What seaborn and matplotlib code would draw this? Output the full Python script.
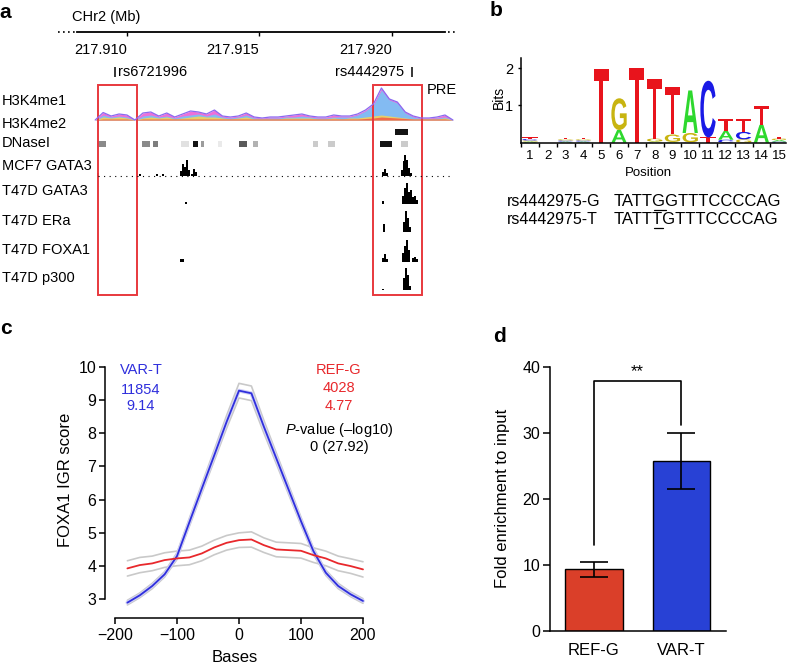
import numpy as np
import pandas as pd
import matplotlib
matplotlib.use("Agg")
import matplotlib.pyplot as plt
import seaborn as sns
from matplotlib.patches import Rectangle, PathPatch
from matplotlib.textpath import TextPath
from matplotlib.font_manager import FontProperties
from matplotlib.transforms import Affine2D
from matplotlib.lines import Line2D

# ======================= DATA =======================
# ---- panel a : genome browser (chr2, Mb) ----
chr_ticks = [217.910, 217.915, 217.920]
track_names = ['H3K4me1', 'H3K4me2', 'DNaseI', 'MCF7 GATA3', 'T47D GATA3',
               'T47D ERa', 'T47D FOXA1', 'T47D p300']
snp_names = ['rs6721996', 'rs4442975']
snp_pos = [217.90955, 217.92075]
box_start = [217.90891, 217.91928]
box_end = [217.91038, 217.92113]

h3_pos = [217.9088, 217.9091, 217.9094, 217.9097, 217.9100, 217.9103, 217.9106, 217.9109,
          217.9112, 217.9115, 217.9118, 217.9121, 217.9124, 217.9127, 217.9130, 217.9133,
          217.9136, 217.9139, 217.9142, 217.9145, 217.9148, 217.9151, 217.9154, 217.9157,
          217.9160, 217.9163, 217.9166, 217.9169, 217.9172, 217.9175, 217.9178, 217.9181,
          217.9184, 217.9187, 217.9190, 217.9193, 217.9196, 217.9199, 217.9202, 217.9205,
          217.9208, 217.9211, 217.9214, 217.9217, 217.9220, 217.9223]
h3_magenta = [0, 7.5, 4, 6, 5, 0, 7, 8, 4, 7, 3, 6, 9, 8, 6, 10, 4, 3, 4, 7, 3, 2, 3, 3,
              4, 5, 6, 4, 3, 3, 5, 4, 4, 6, 10, 16, 32, 21, 18, 8, 4, 2, 2, 3, 5, 0]
h3_cyan = [0, 5, 3, 4, 3, 0, 4, 5, 3, 4, 2, 4, 5, 6, 4, 6, 3, 2, 3, 5, 2, 1.5, 2, 2,
           3, 3, 4, 3, 2, 2, 3, 3, 3, 5, 9, 15, 30, 20, 17, 7, 3, 1.5, 1.5, 2, 3, 0]
h3_yellow = [0, 3, 2, 3, 2, 0, 2, 3, 2, 3, 1, 2, 3, 4, 3, 3, 2, 1, 2, 3, 1, 1, 1, 1,
             2, 2, 2, 2, 1, 1, 2, 1, 2, 2, 3, 4, 5, 4, 3, 2, 1, 1, 1, 1, 2, 0]
h3_red = [0, 1, 1, 1, 1, 0, 1, 1, 1, 1, 1, 1, 1, 1, 1, 1, 1, 1, 1, 1, 1, 1, 1, 1,
          1, 1, 1, 1, 1, 1, 1, 1, 1, 1, 1.5, 2, 3, 2.5, 2, 1.5, 1, 1, 1, 1, 1, 0]

dnase_start = [217.90887, 217.91057, 217.91098, 217.91204, 217.91249, 217.91279, 217.91343,
               217.91423, 217.91476, 217.91702, 217.91759, 217.91955, 217.92034, 217.92011]
dnase_end = [217.90921, 217.91087, 217.91117, 217.91234, 217.91268, 217.91291, 217.91359,
             217.91453, 217.91494, 217.91721, 217.91785, 217.92000, 217.92060, 217.92060]
dnase_score = [0.5, 0.5, 0.55, 0.13, 1.0, 0.42, 0.09, 0.7, 0.33, 0.22, 0.22, 1.0, 0.22, 1.0]
dnase_row = [0, 0, 0, 0, 0, 0, 0, 0, 0, 0, 0, 0, 0, 1]

mcf7_gata3_pos = [217.90891, 217.91049, 217.91113, 217.91136, 217.91204, 217.91211, 217.91219,
                  217.91226, 217.91234, 217.91245, 217.91253, 217.91260, 217.91966, 217.91974,
                  217.91981, 217.92038, 217.92045, 217.92049, 217.92057, 217.92064, 217.92072]
mcf7_gata3_h = [3, 2, 2, 2, 5, 12, 9, 16, 6, 2, 7, 4, 4, 7, 3, 6, 15, 21, 16, 8, 3]
t47d_gata3_pos = [217.91223, 217.91966, 217.92042, 217.92049, 217.92057, 217.92064,
                  217.92072, 217.92079, 217.92087, 217.92094]
t47d_gata3_h = [2, 3, 8, 16, 21, 12, 14, 7, 8, 4]
t47d_era_pos = [217.91970, 217.92045, 217.92053, 217.92060, 217.92068]
t47d_era_h = [8, 10, 21, 14, 5]
t47d_foxa1_pos = [217.91204, 217.91211, 217.91966, 217.91974, 217.91981, 217.92042,
                  217.92049, 217.92057, 217.92064, 217.92079, 217.92087, 217.92094]
t47d_foxa1_h = [3, 3, 4, 8, 3, 9, 16, 22, 12, 4, 5, 3]
t47d_p300_pos = [217.91966, 217.92045, 217.92053, 217.92060, 217.92068]
t47d_p300_h = [1, 12, 22, 15, 4]

# ---- panel b : FOXA1 motif logo (bits) ----
logo_positions = list(range(1, 16))
logo_A = [0.03, 0.0, 0.03, 0.03, 0.0, 0.34, 0.0, 0.02, 0.02, 1.14, 0.0, 0.24, 0.0, 0.48, 0.04]
logo_C = [0.04, 0.0, 0.03, 0.03, 0.0, 0.0, 0.0, 0.01, 0.0, 0.01, 1.52, 0.08, 0.20, 0.0, 0.03]
logo_G = [0.03, 0.0, 0.03, 0.03, 0.0, 0.85, 0.0, 0.08, 0.20, 0.25, 0.0, 0.0, 0.09, 0.0, 0.04]
logo_T = [0.04, 0.0, 0.03, 0.03, 1.97, 0.0, 2.00, 1.60, 1.27, 0.0, 0.14, 0.32, 0.34, 0.50, 0.04]
seq_labels = ['rs4442975-G', 'rs4442975-T']
seq_strings = ['TATTGGTTTCCCCAG', 'TATTTGTTTCCCCAG']
snp_index = 4

# ---- panel c : FOXA1 IGR score ----
bases = [-180, -160, -140, -120, -100, -80, -60, -40, -20, 0,
         20, 40, 60, 80, 100, 120, 140, 160, 180, 200]
var_t = [2.90, 3.12, 3.40, 3.75, 4.30, 5.32, 6.33, 7.33, 8.34, 9.28,
         9.20, 8.20, 7.25, 6.30, 5.35, 4.45, 3.80, 3.40, 3.15, 2.95]
var_se = [0.07, 0.07, 0.08, 0.08, 0.10, 0.12, 0.14, 0.16, 0.19, 0.22,
          0.22, 0.19, 0.16, 0.14, 0.12, 0.10, 0.08, 0.08, 0.07, 0.07]
ref_g = [3.93, 4.03, 4.08, 4.18, 4.23, 4.26, 4.38, 4.56, 4.70, 4.78,
         4.80, 4.63, 4.50, 4.48, 4.46, 4.33, 4.23, 4.08, 4.00, 3.90]
ref_se = [0.23, 0.23, 0.22, 0.22, 0.22, 0.22, 0.22, 0.22, 0.22, 0.22,
          0.23, 0.22, 0.22, 0.22, 0.22, 0.22, 0.22, 0.22, 0.22, 0.23]
var_stats = ['VAR-T', '11854', '9.14']
ref_stats = ['REF-G', '4028', '4.77']
pval_text = ['$P$-value (\u2013log10)', '0 (27.92)']

# ---- panel d : ChIP-qPCR ----
chip_groups = ['REF-G', 'VAR-T']
chip_fold = [9.3, 25.7]
chip_err = [1.1, 4.2]
signif = '**'

# ======================= STYLE =======================
sns.set_style('ticks', {'axes.edgecolor': 'black', 'text.color': 'black',
                        'xtick.color': 'black', 'ytick.color': 'black',
                        'axes.labelcolor': 'black'})
plt.rcParams['font.family'] = ['Liberation Sans', 'DejaVu Sans']
plt.rcParams['mathtext.fontset'] = 'custom'
plt.rcParams['mathtext.rm'] = 'Liberation Sans'
plt.rcParams['mathtext.it'] = 'Liberation Sans:italic'
plt.rcParams['axes.linewidth'] = 1.1

BLUE = '#2f2fdc'
RED = '#e8282c'
BOXRED = '#e8383d'
W, H = 788, 666
fig = plt.figure(figsize=(W / 100, H / 100), dpi=100)


def add_ax(l, t, r, b):
    return fig.add_axes([l / W, 1 - b / H, (r - l) / W, (b - t) / H])


def ftext(x, y, s, **kw):
    return fig.text(x / W, 1 - y / H, s, **kw)


# panel letters
for lab, (x, y) in zip('abcd', [(5, 12), (496, 10), (6, 329), (500, 337)]):
    ftext(x, y, lab, fontsize=15, fontweight='bold', ha='center', va='center')

# ======================= PANEL A =======================
ax_a = add_ax(0, 0, 460, 300)
ax_a.set_facecolor('none')
ax_a.set_xlim(217.905208, 217.922566)
ax_a.set_ylim(300, 0)
for s in ['left', 'right', 'top']:
    ax_a.spines[s].set_visible(False)
ax_a.spines['bottom'].set_position(('data', 32))
ax_a.spines['bottom'].set_bounds(217.90811, 217.92200)
ax_a.spines['bottom'].set_linewidth(1.3)
ax_a.set_yticks([])
ax_a.set_xticks(chr_ticks)
ax_a.set_xticklabels([f'{v:.3f}' for v in chr_ticks], fontsize=10.5)
for lbl in ax_a.get_xticklabels():
    lbl.set_ha('right')
ax_a.tick_params(axis='x', direction='out', length=3, width=1, pad=5)
ax_a.plot([217.90740, 217.90805], [32, 32], color='black', lw=1.2, ls=(0, (1, 2)))
ax_a.plot([217.92210, 217.92248], [32, 32], color='black', lw=1.2, ls=(0, (1, 2)))
ftext(72, 17, 'CHr2 (Mb)', fontsize=10.5, ha='left', va='center')

# SNP markers
ax_a.vlines(snp_pos, 67, 77, color='black', lw=1.1)
ax_a.text(snp_pos[0] + 0.00011, 72, snp_names[0], fontsize=10.5, ha='left', va='center')
ax_a.text(snp_pos[1] - 0.00030, 72, snp_names[1], fontsize=10.5, ha='right', va='center')
ftext(427, 90, 'PRE', fontsize=10.5, ha='left', va='center')

# histone marks
base_h3 = 120
hp = np.array(h3_pos)
ax_a.fill_between(hp, base_h3, base_h3 - np.array(h3_magenta), color='#ee70d8', lw=0)
ax_a.fill_between(hp, base_h3, base_h3 - np.array(h3_cyan), color='#78c4f6', lw=0, alpha=0.9)
ax_a.fill_between(hp, base_h3, base_h3 - np.array(h3_yellow), color='#f2d25a', lw=0, alpha=0.9)
ax_a.fill_between(hp, base_h3, base_h3 - np.array(h3_red), color='#f26a4a', lw=0)
ax_a.plot(hp, base_h3 - np.array(h3_magenta), color='#8a6af0', lw=0.9)

# DNaseI blocks
dnase_y = [144, 131.5]
for s0, s1, sc, rw in zip(dnase_start, dnase_end, dnase_score, dnase_row):
    g = 1 - 0.92 * sc
    ax_a.add_patch(Rectangle((s0, dnase_y[rw] - 3), s1 - s0, 6, facecolor=(g, g, g), lw=0))

# ChIP tracks
chip_tracks = [(mcf7_gata3_pos, mcf7_gata3_h, 175.5), (t47d_gata3_pos, t47d_gata3_h, 204),
               (t47d_era_pos, t47d_era_h, 232), (t47d_foxa1_pos, t47d_foxa1_h, 262),
               (t47d_p300_pos, t47d_p300_h, 290)]
for pos, hh, base in chip_tracks:
    ax_a.bar(pos, -np.array(hh, dtype=float), bottom=base, width=0.000095, color='black', lw=0)
ax_a.plot([217.9089, 217.9223], [175.5, 175.5], color='black', lw=0.8, ls=(0, (1, 4)))

# red boxes
for b0, b1 in zip(box_start, box_end):
    ax_a.add_patch(Rectangle((b0, 85), b1 - b0, 210, fill=False, edgecolor=BOXRED, lw=1.4))

for name, y in zip(track_names, [101, 124, 143, 166, 191, 221, 249.5, 277.5]):
    ftext(2, y, name, fontsize=10.5, ha='left', va='center')

# ======================= PANEL B =======================
ax_b = add_ax(521, 58, 786, 142.7)
ax_b.set_xlim(0.494, 15.38)
ax_b.set_ylim(0, 2.27)
sns.despine(ax=ax_b)
letter_colors = {'A': '#2ed82e', 'C': '#1a1ae6', 'G': '#c8b410', 'T': '#e8141c'}
fp = FontProperties(family='Liberation Sans', weight='bold')
lw_letter = 0.86
for i, p in enumerate(logo_positions):
    stack = sorted([('A', logo_A[i]), ('C', logo_C[i]), ('G', logo_G[i]), ('T', logo_T[i])],
                   key=lambda t: t[1])
    y0 = 0.0
    for letter, h in stack:
        if h <= 0:
            continue
        tp = TextPath((0, 0), letter, size=1, prop=fp)
        bb = tp.get_extents()
        tr = Affine2D().translate(-bb.x0, -bb.y0).scale(lw_letter / bb.width, h / bb.height) \
            .translate(p - lw_letter / 2, y0)
        ax_b.add_patch(PathPatch(tr.transform_path(tp), facecolor=letter_colors[letter],
                                 edgecolor='none'))
        y0 += h
ax_b.set_yticks([1, 2])
ax_b.set_yticklabels(['1', '2'], fontsize=10.5)
ax_b.tick_params(axis='y', length=2.5, width=1, pad=3)
ax_b.set_xticks(logo_positions)
ax_b.set_xticklabels([str(p) for p in logo_positions], fontsize=9.5)
ax_b.set_xticks(np.arange(0.5, 15.5, 1.0), minor=True)
ax_b.tick_params(axis='x', which='major', length=0, pad=5)
ax_b.tick_params(axis='x', which='minor', length=3, width=1)
ax_b.set_xlabel('Position', fontsize=9.5)
ax_b.xaxis.set_label_coords((648 - 521) / 265, -(173 - 142.7) / 84.7)
ax_b.xaxis.label.set_va('center')
ax_b.set_ylabel('Bits', fontsize=10)
ax_b.yaxis.set_label_coords((498.5 - 521) / 265, (142.7 - 97) / 84.7)
ax_b.yaxis.label.set_va('center')

# sequences
renderer = fig.canvas.get_renderer()
for lab, seq, y in zip(seq_labels, seq_strings, [202, 220]):
    ftext(507, y, lab, fontsize=11.5, ha='left', va='center')
    ftext(614, y, seq, fontsize=12, ha='left', va='center')
    t_a = ftext(614, y, seq[:snp_index], fontsize=12, ha='left', va='center')
    t_b = ftext(614, y, seq[:snp_index + 1], fontsize=12, ha='left', va='center')
    x0 = t_a.get_window_extent(renderer).x1
    x1 = t_b.get_window_extent(renderer).x1
    t_a.remove()
    t_b.remove()
    fig.add_artist(Line2D([(x0 + 0.5) / W, (x1 - 0.5) / W], [1 - (y + 8) / H] * 2,
                          transform=fig.transFigure, color='black', lw=0.9))

# ======================= PANEL C =======================
ax_c = add_ax(111.9, 363.4, 366.1, 607.6)
ax_c.set_facecolor('none')
vt, vs = np.array(var_t), np.array(var_se)
rg, rs = np.array(ref_g), np.array(ref_se)
for arr in [rg + rs, rg - rs, vt + vs, vt - vs]:
    sns.lineplot(x=bases, y=arr, color='#c9c9c9', lw=1.2, ax=ax_c)
sns.lineplot(x=bases, y=vt, color='#d0d0f6', lw=2.8, ax=ax_c)
df_c = pd.DataFrame({'Bases': bases * 2, 'score': list(var_t) + list(ref_g),
                     'allele': ['VAR-T'] * len(bases) + ['REF-G'] * len(bases)})
sns.lineplot(data=df_c, x='Bases', y='score', hue='allele',
             palette={'VAR-T': BLUE, 'REF-G': RED}, lw=1.3, legend=False, ax=ax_c)
ax_c.set_xlim(-205, 205)
ax_c.set_ylim(2.75, 10.1)
sns.despine(ax=ax_c)
ax_c.spines['left'].set_position(('outward', 4.97))
ax_c.spines['bottom'].set_position(('outward', 7.5))
ax_c.spines['left'].set_bounds(3, 10)
ax_c.spines['bottom'].set_bounds(-200, 200)
ax_c.set_yticks(range(3, 11))
ax_c.set_xticks([-200, -100, 0, 100, 200])
ax_c.tick_params(axis='both', labelsize=11.5, length=4.3, width=1.1)
ax_c.tick_params(axis='y', pad=2)
ax_c.tick_params(axis='x', pad=3)
ax_c.set_xlabel('Bases', fontsize=12)
ax_c.set_ylabel('FOXA1 IGR score', fontsize=12)
ax_c.xaxis.set_label_coords((235 - 111.9) / 254.2, -(658 - 607.6) / 244.2)
ax_c.xaxis.label.set_va('center')
ax_c.yaxis.set_label_coords((65 - 111.9) / 254.2, (607.6 - 480) / 244.2)
ax_c.yaxis.label.set_va('center')
for s, y in zip(var_stats, [370, 390, 406]):
    ftext(141, y, s, fontsize=10.5, color=BLUE, ha='center', va='center')
for s, y in zip(ref_stats, [370, 388, 406]):
    ftext(339, y, s, fontsize=10.5, color=RED, ha='center', va='center')
for s, y in zip(pval_text, [430, 447]):
    ftext(339, y, s, fontsize=10.5, color='black', ha='center', va='center')

# ======================= PANEL D =======================
ax_d = add_ax(550, 360.1, 726, 630.7)
ax_d.set_facecolor('none')
sns.barplot(x=chip_groups, y=chip_fold, hue=chip_groups,
            palette={'REF-G': '#f7290c', 'VAR-T': '#0b2cf2'},
            width=0.66, edgecolor='black', linewidth=1.0, errorbar=None,
            legend=False, ax=ax_d)
ax_d.errorbar(range(len(chip_groups)), chip_fold, yerr=chip_err, fmt='none',
              ecolor='black', elinewidth=1.2, capsize=10.4, capthick=1.2)
ax_d.set_xlim(-0.503, 1.51)
ax_d.set_ylim(0, 41)
sns.despine(ax=ax_d)
ax_d.spines['left'].set_bounds(0, 40)
ax_d.set_yticks([0, 10, 20, 30, 40])
ax_d.tick_params(axis='y', labelsize=11.5, length=5, width=1.1, pad=2)
ax_d.tick_params(axis='x', labelsize=12, length=0, pad=9)
ax_d.set_ylabel('Fold enrichment to input', fontsize=12)
ax_d.yaxis.set_label_coords((502 - 550) / 176, (630.7 - 498) / 270.6)
ax_d.yaxis.label.set_va('center')
ax_d.set_xlabel('')
# significance bracket
br_left = chip_fold[0] + chip_err[0] + 2.6
br_right = chip_fold[1] + chip_err[1] + 1.3
br_top = 37.8
ax_d.plot([0, 0, 1, 1], [br_left, br_top, br_top, br_right], color='black', lw=1.2)
ax_d.text(0.5, br_top + 0.3, signif, ha='center', va='bottom', fontsize=12)

fig.savefig('out.png', dpi=100)
